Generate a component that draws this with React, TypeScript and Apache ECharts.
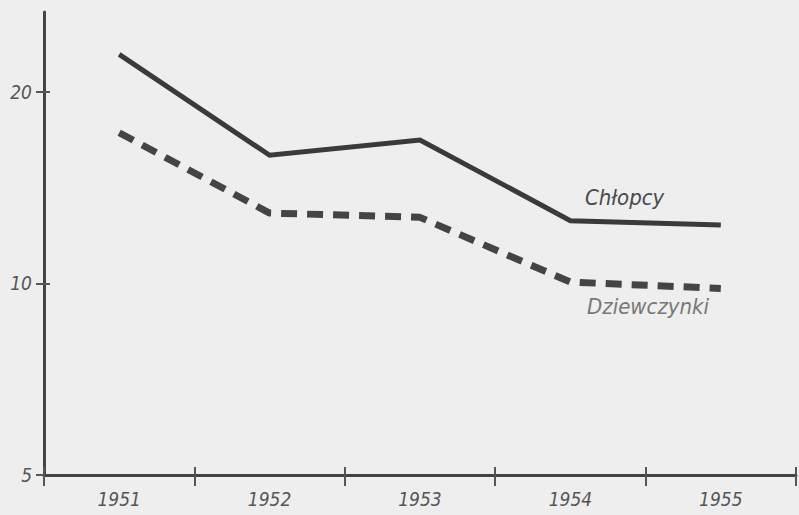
import React, { useEffect, useRef } from "react";
import * as echarts from "echarts";

const years = ["1951", "1952", "1953", "1954", "1955"];
const chlopcy = [22.9, 15.9, 16.8, 12.55, 12.35];
const dziewczynki = [17.25, 12.9, 12.7, 10.05, 9.82];
const yTicks = [5, 10, 20];

const FONT = "'Liberation Sans Narrow', 'DejaVu Sans Condensed', 'Noto Sans', sans-serif";

export default function App() {
  const ref = useRef<HTMLDivElement>(null);
  useEffect(() => {
    if (!ref.current) return;
    const chart = echarts.init(ref.current, undefined, { renderer: "svg" });
    const labelStyle = {
      color: "#555",
      fontSize: 19,
      fontStyle: "italic",
      fontFamily: FONT,
    };
    chart.setOption({
      animation: false,
      backgroundColor: "#eeeeee",
      grid: { left: 44, right: 3, top: 12, bottom: 40, containLabel: false },
      xAxis: [
        {
          type: "category",
          data: years,
          boundaryGap: true,
          axisLine: { lineStyle: { color: "#444", width: 3 } },
          axisTick: { show: true, length: 11, lineStyle: { color: "#555", width: 2 } },
          axisLabel: { ...labelStyle, margin: 14 },
          splitLine: { show: false },
        },
        {
          type: "category",
          data: years,
          position: "bottom",
          boundaryGap: true,
          axisLine: { show: false },
          axisTick: { show: true, inside: true, length: 8, lineStyle: { color: "#555", width: 2 } },
          axisLabel: { show: false },
          splitLine: { show: false },
        },
      ],
      yAxis: [
        {
          type: "log",
          logBase: 2,
          min: 5,
          max: 26.7,
          axisLine: { show: true, lineStyle: { color: "#444", width: 3 } },
          axisTick: { show: true, length: 8, customValues: yTicks, lineStyle: { color: "#555", width: 2 } },
          axisLabel: { ...labelStyle, customValues: yTicks, margin: 12 },
          splitLine: { show: false },
        },
        {
          type: "log",
          logBase: 2,
          min: 5,
          max: 26.7,
          position: "left",
          axisLine: { show: false },
          axisTick: { show: true, inside: true, length: 6, customValues: [10, 20], lineStyle: { color: "#555", width: 2 } },
          axisLabel: { show: false },
          splitLine: { show: false },
        },
      ],
      series: [
        {
          name: "Chłopcy",
          type: "line",
          xAxisIndex: 0,
          yAxisIndex: 0,
          data: chlopcy,
          symbol: "none",
          lineStyle: { color: "#3a3a3a", width: 5, cap: "butt", join: "miter" },
        },
        {
          name: "Dziewczynki",
          type: "line",
          xAxisIndex: 0,
          yAxisIndex: 0,
          data: dziewczynki,
          symbol: "none",
          lineStyle: { color: "#444", width: 7, type: [16, 10], cap: "butt" },
        },
      ],
      graphic: [
        {
          type: "text",
          left: 585,
          top: 186,
          style: {
            text: "Chłopcy",
            fill: "#4a4a4a",
            fontSize: 22,
            fontStyle: "italic",
            fontFamily: FONT,
          },
        },
        {
          type: "text",
          left: 587,
          top: 295,
          style: {
            text: "Dziewczynki",
            fill: "#777",
            fontSize: 22,
            fontStyle: "italic",
            fontFamily: FONT,
          },
        },
      ],
    });
    return () => chart.dispose();
  }, []);
  return (
    <div
      ref={ref}
      style={{ position: "fixed", left: 0, top: 0, width: 799, height: 515 }}
    />
  );
}
